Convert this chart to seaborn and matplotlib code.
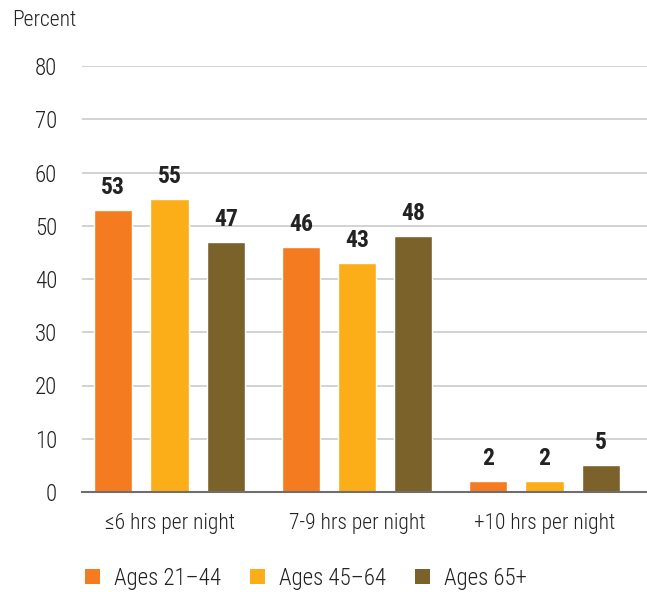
import matplotlib
matplotlib.use("Agg")
import matplotlib.pyplot as plt
import seaborn as sns
import pandas as pd
from matplotlib.patches import Patch

categories = ["\u22646 hrs per night", "7-9 hrs per night", "+10 hrs per night"]
groups = ["Ages 21\u201344", "Ages 45\u201364", "Ages 65+"]
ages_21_44 = [53, 46, 2]
ages_45_64 = [55, 43, 2]
ages_65_plus = [47, 48, 5]
colors = ["#F47B20", "#FBAE17", "#7B622B"]
yticks = [0, 10, 20, 30, 40, 50, 60, 70, 80]

sns.set_theme(style="white")
plt.rcParams["font.family"] = ["Roboto Condensed", "Roboto", "DejaVu Sans"]
plt.rcParams["font.weight"] = 300

rows = []
for g, vals in zip(groups, [ages_21_44, ages_45_64, ages_65_plus]):
    for c, v in zip(categories, vals):
        rows.append({"Sleep": c, "Age": g, "Percent": v})
df = pd.DataFrame(rows)

fig = plt.figure(figsize=(6.47, 5.92), dpi=100)
ax = fig.add_axes([82 / 647, 1 - 492 / 592, 1 - 82 / 647, (492 - 66) / 592])

sns.barplot(data=df, x="Sleep", y="Percent", hue="Age", order=categories,
            hue_order=groups, palette=colors, width=0.9, gap=0.32,
            saturation=1, ax=ax, legend=False, zorder=3)

ax.set_ylim(0, 80)
ax.set_xlim(-0.467, 2.547)
ax.set_yticks(yticks)
ax.set_yticklabels([str(t) for t in yticks])
ax.yaxis.grid(True, color="#c6c6c6", linewidth=1.1, zorder=0)
ax.set_axisbelow(True)
for s in ["top", "right", "left"]:
    ax.spines[s].set_visible(False)
ax.spines["bottom"].set_color("#6e6e6e")
ax.spines["bottom"].set_linewidth(1.5)
ax.spines["bottom"].set_zorder(5)
ax.tick_params(axis="y", length=0, pad=18, labelsize=16.5, labelcolor="#222222")
ax.tick_params(axis="x", length=0, pad=15, labelsize=15.5, labelcolor="#222222")
ax.set_xlabel("")
ax.set_ylabel("")

for cont in ax.containers:
    ax.bar_label(cont, labels=[f"{int(v)}" for v in cont.datavalues], padding=8,
                 fontsize=17, fontweight="bold", color="#222222")

fig.text(12 / 647, 1 - 20 / 592, "Percent", fontsize=15.5, color="#222222",
         ha="left", va="center")

handles = [Patch(facecolor=c, edgecolor="none") for c in colors]
fig.legend(handles, groups, loc="center left", bbox_to_anchor=(64 / 647, 1 - 578 / 592),
           ncol=3, frameon=False, fontsize=16.5, handlelength=0.68, handleheight=0.68,
           handletextpad=0.6, columnspacing=1.25, labelcolor="#222222")

fig.savefig("out.png", dpi=100)
